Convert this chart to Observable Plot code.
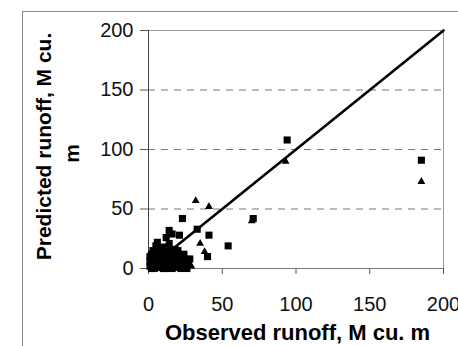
<!DOCTYPE html>
<html>
<head>
<meta charset="utf-8">
<script src="https://cdn.jsdelivr.net/npm/d3@7"></script>
<script src="https://cdn.jsdelivr.net/npm/@observablehq/plot@0.6"></script>
<style>
  html, body { margin: 0; padding: 0; background: #fff; }
  #chart { position: relative; width: 458px; height: 346px; overflow: hidden; }
  #border { position: absolute; left: 22px; top: 11px; width: 500px; height: 400px;
            border-left: 1px solid #888; border-top: 1px solid #888; }
  #chart svg { position: absolute; left: 0; top: 0; }
</style>
</head>
<body>
<div id="chart"><div id="border"></div></div>
<script>
// Observed vs predicted runoff (M cu. m), two model variants
const squareObserved = [94, 185, 71, 54, 41, 40, 33, 14, 23, 16, 21, 12, 6, 5, 14, 28,
  1, 2, 3, 4, 5, 6, 7, 8, 9, 10, 11, 12, 13, 14, 15, 16, 17, 18, 19, 20, 21, 22, 23, 24, 26,
  2, 3, 8, 10, 4, 18, 1, 7, 13, 17, 25, 9, 19, 11,
  1, 3, 5, 7, 9, 11, 13, 15, 17, 19, 21, 23, 25, 27,
  2, 4, 6, 8, 10, 12, 14, 16, 18, 20, 22, 24, 26, 6, 10, 15, 20];
const squarePredicted = [108, 91, 42, 19, 28, 10, 33, 32, 42, 29, 28, 26, 22, 19, 21, 8,
  2, 5, 1, 8, 3, 10, 6, 2, 12, 4, 9, 14, 7, 3, 11, 6, 13, 2, 8, 5, 10, 3, 7, 12, 5,
  12, 15, 17, 18, 0, 16, 10, 1, 0, 1, 2, 6, 14, 0,
  6, 9, 7, 11, 8, 5, 10, 4, 9, 11, 6, 2, 8, 3,
  0, 3, 1, 4, 0, 2, 1, 0, 4, 1, 0, 1, 0, 13, 14, 16, 15];
const triangleObserved = [93, 185, 32, 41, 70, 38, 35, 29, 3, 8, 12, 17, 22, 26, 5, 15];
const trianglePredicted = [90, 73, 57, 52, 40, 14, 21, 2, 4, 9, 6, 11, 4, 7, 13, 1];

// 1:1 reference line
const lineX = [0, 200];
const lineY = [0, 200];

const xTicks = [0, 50, 100, 150, 200];
const yTicks = [0, 50, 100, 150, 200];
const yGrid = [50, 100, 150];

const squares = squareObserved.map((o, i) => ({obs: o, pred: squarePredicted[i]}));
const triangles = triangleObserved.map((o, i) => ({obs: o, pred: trianglePredicted[i]}));
const fit = lineX.map((x, i) => ({obs: x, pred: lineY[i]}));

const chart = Plot.plot({
  width: 458,
  height: 346,
  marginLeft: 148,
  marginRight: 15,
  marginTop: 30,
  marginBottom: 78,
  x: {domain: [0, 200], label: null},
  y: {domain: [0, 200], label: null},
  style: {fontFamily: "'Liberation Sans', Arial, sans-serif", fontSize: "20px", background: "transparent", color: "#111"},
  marks: [
    Plot.gridY(yGrid, {stroke: "#777", strokeOpacity: 1, strokeDasharray: "7,6"}),
    Plot.frame({stroke: "#999"}),
    Plot.axisY(yTicks, {tickSize: 8, tickPadding: 7, label: null, stroke: "#555"}),
    Plot.axisX(xTicks, {tickSize: 6, tickPadding: 22, label: null, stroke: "#555"}),
    Plot.ruleX([0], {stroke: "#444"}),
    Plot.ruleY([0], {stroke: "#777"}),
    Plot.dot(squares, {x: "obs", y: "pred", symbol: "square", r: 4, fill: "#000", stroke: "none"}),
    Plot.dot(triangles, {x: "obs", y: "pred", symbol: "triangle", r: 2.9, fill: "#000", stroke: "none"}),
    Plot.line(fit, {x: "obs", y: "pred", stroke: "#000", strokeWidth: 2.6}),
    Plot.text(["Observed runoff, M cu. m"], {frameAnchor: "bottom", lineAnchor: "middle", textAnchor: "middle", dx: 1.5, dy: 64, fontWeight: "bold", fontSize: 22, fill: "#000"}),
    Plot.text(["Predicted runoff, M cu."], {frameAnchor: "left", rotate: -90, textAnchor: "middle", lineAnchor: "middle", dx: -104.5, dy: -3, fontWeight: "bold", fontSize: 21, fill: "#000"}),
    Plot.text(["m"], {frameAnchor: "left", rotate: -90, textAnchor: "middle", lineAnchor: "middle", dx: -76, dy: 4, fontWeight: "bold", fontSize: 21, fill: "#000"})
  ]
});

document.getElementById("chart").appendChild(chart);
</script>
</body>
</html>
